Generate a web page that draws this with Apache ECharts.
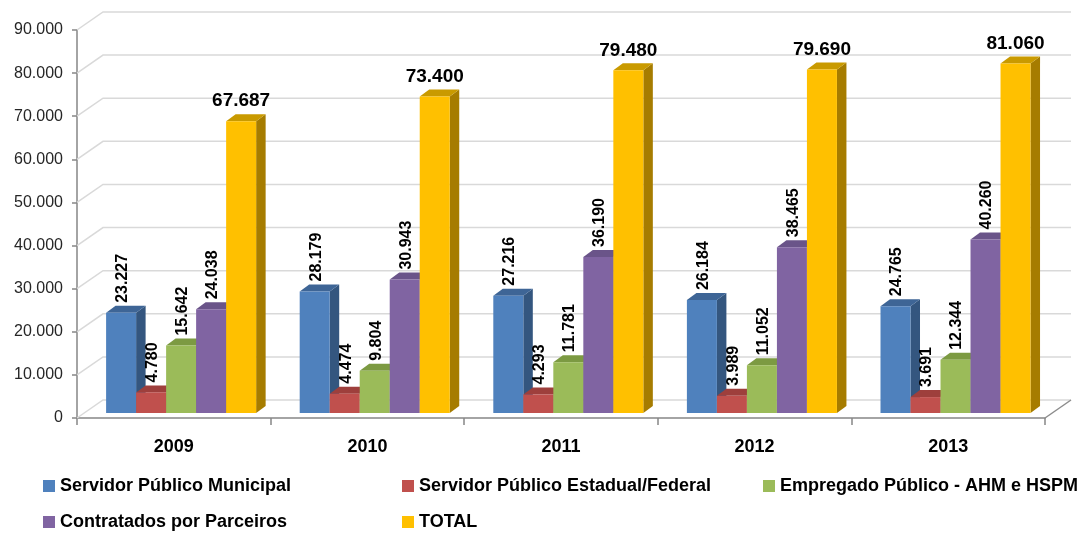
<!DOCTYPE html>
<html>
<head>
<meta charset="utf-8">
<script src="https://cdn.jsdelivr.net/npm/echarts@6/dist/echarts.min.js"></script>
<style>html,body{margin:0;padding:0;background:#fff;}#c{width:1085px;height:534px;}</style>
</head>
<body>
<div id="c"></div>
<script>
const categories = ['2009', '2010', '2011', '2012', '2013'];
const seriesNames = ['Servidor Público Municipal', 'Servidor Público Estadual/Federal', 'Empregado Público - AHM e HSPM', 'Contratados por Parceiros', 'TOTAL'];
const servidorMunicipal = [23227, 28179, 27216, 26184, 24765];
const servidorEstadual = [4780, 4474, 4293, 3989, 3691];
const empregadoPublico = [15642, 9804, 11781, 11052, 12344];
const contratadosParceiros = [24038, 30943, 36190, 38465, 40260];
const totalValues = [67687, 73400, 79480, 79690, 81060];
const yTicks = [0, 10000, 20000, 30000, 40000, 50000, 60000, 70000, 80000, 90000];

const allValues = [servidorMunicipal, servidorEstadual, empregadoPublico, contratadosParceiros, totalValues];
const faceColors = ['#4F81BD', '#C0504D', '#9BBB59', '#8064A2', '#FFC000'];
const sideColors = ['#34567F', '#8A3835', '#6E8A3C', '#5C4878', '#A67C00'];
const topColors = ['#3E6596', '#9E3F3C', '#7C9A42', '#6A5489', '#C99A00'];

const FONT = '"Liberation Sans", Arial, sans-serif';
const fmt = v => String(v).replace(/\B(?=(\d{3})+(?!\d))/g, '.');

const DEPTH_X = 26, DEPTH_Y = -18;   // floor / wall depth
const BAR_DX = 9.5, BAR_DY = -7;     // bar depth
const BAR_W = 0.155;                 // fraction of band
const BAR_OFF_X = 0.0378, BAR_OFF_Y = -5;

function barRender(i) {
  return function (params, api) {
    const cat = api.value(0), v = api.value(1);
    const base = api.coord([cat, 0]);
    const topP = api.coord([cat, v]);
    const band = api.size([1, 0])[0];
    const w = band * BAR_W;
    const x0 = base[0] - 2.5 * w + i * w + band * BAR_OFF_X;
    const yb = base[1] + BAR_OFF_Y;
    const yt = topP[1] + BAR_OFF_Y;
    const children = [
      { type: 'polygon', shape: { points: [[x0 + w, yb], [x0 + w, yt], [x0 + w + BAR_DX, yt + BAR_DY], [x0 + w + BAR_DX, yb + BAR_DY]] }, style: { fill: sideColors[i] } },
      { type: 'polygon', shape: { points: [[x0, yt], [x0 + w, yt], [x0 + w + BAR_DX, yt + BAR_DY], [x0 + BAR_DX, yt + BAR_DY]] }, style: { fill: topColors[i] } },
      { type: 'rect', shape: { x: x0, y: yt, width: w, height: yb - yt }, style: { fill: faceColors[i] } }
    ];
    if (i < 4) {
      children.push({ type: 'text', x: x0 + w / 2 + 1.5, y: yt + BAR_DY - 3, rotation: Math.PI / 2,
        style: { text: fmt(v), fontSize: 16, fontWeight: 'bold', fontFamily: FONT, fill: '#000', align: 'left', verticalAlign: 'middle' } });
    } else {
      children.push({ type: 'text', x: x0 + w / 2, y: yt - 20,
        style: { text: fmt(v), fontSize: 19, fontWeight: 'bold', fontFamily: FONT, fill: '#000', align: 'center', verticalAlign: 'middle' } });
    }
    return { type: 'group', children };
  };
}

function wallRender(params, api) {
  const t = api.value(1);
  const n = categories.length;
  const band = api.size([1, 0])[0];
  const pL = api.coord([0, t]);
  const pR = api.coord([n - 1, t]);
  const xl = pL[0] - band / 2, xr = pR[0] + band / 2, y = pL[1];
  const children = [
    { type: 'polyline', shape: { points: [[xl, y], [xl + DEPTH_X, y + DEPTH_Y], [xr + DEPTH_X, y + DEPTH_Y]] }, style: { stroke: '#D9D9D9', lineWidth: 1.5, fill: null } }
  ];
  if (t === 0) {
    children.push({ type: 'line', shape: { x1: xr, y1: y, x2: xr + DEPTH_X, y2: y + DEPTH_Y }, style: { stroke: '#8C8C8C', lineWidth: 1.5 } });
  }
  return { type: 'group', children };
}

const series = [{
  type: 'custom', name: 'wall', silent: true, clip: false, z: 1,
  data: yTicks.map(t => [0, t]), encode: { x: 0, y: 1 }, renderItem: wallRender
}];
allValues.forEach((vals, i) => {
  series.push({
    type: 'custom', name: seriesNames[i], clip: false, z: 2 + i,
    itemStyle: { color: faceColors[i] },
    data: vals.map((v, k) => [k, v]), encode: { x: 0, y: 1 },
    renderItem: barRender(i)
  });
});

const legendBase = {
  orient: 'vertical', icon: 'rect', itemWidth: 12, itemHeight: 12, itemGap: 14,
  top: 475, padding: 0,
  textStyle: { fontSize: 18, fontWeight: 'bold', fontFamily: FONT, color: '#000', lineHeight: 22 }
};

const option = {
  animation: false,
  backgroundColor: '#fff',
  grid: { left: 77, right: 40, top: 30, bottom: 116, containLabel: false },
  xAxis: {
    type: 'category', data: categories, boundaryGap: true,
    axisLine: { lineStyle: { color: '#868686', width: 1.5 } },
    axisTick: { show: true, length: 7, lineStyle: { color: '#868686', width: 1.5 } },
    axisLabel: { fontSize: 18, fontWeight: 'bold', fontFamily: FONT, color: '#000', margin: 20 },
    splitLine: { show: false }
  },
  yAxis: {
    type: 'value', min: 0, max: 90000, interval: 10000,
    axisLine: { show: true, lineStyle: { color: '#868686', width: 1.5 } },
    axisTick: { show: true, length: 5, lineStyle: { color: '#868686', width: 1.5 } },
    axisLabel: { fontSize: 16, fontFamily: FONT, color: '#262626', margin: 14, formatter: v => fmt(v) },
    splitLine: { show: false }
  },
  legend: [
    Object.assign({}, legendBase, { left: 43, data: [seriesNames[0], seriesNames[3]] }),
    Object.assign({}, legendBase, { left: 402, data: [seriesNames[1], seriesNames[4]] }),
    Object.assign({}, legendBase, { left: 763, data: [seriesNames[2]] })
  ],
  series
};

const chart = echarts.init(document.getElementById('c'), null, { renderer: 'canvas' });
chart.setOption(option);
</script>
</body>
</html>
